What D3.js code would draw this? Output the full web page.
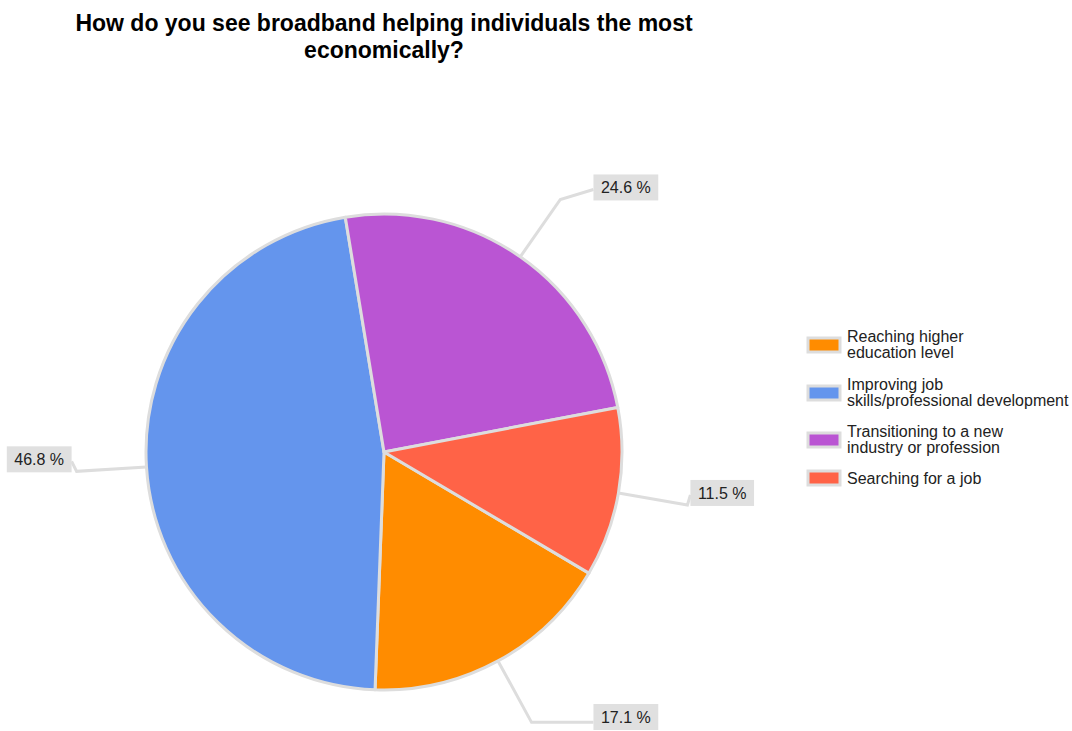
<!DOCTYPE html>
<html>
<head>
<meta charset="utf-8">
<script src="https://cdn.jsdelivr.net/npm/d3@7"></script>
<style>
  html, body { margin: 0; padding: 0; background: #fff; }
  svg { display: block; font-family: "Liberation Sans", Arial, sans-serif; }
</style>
</head>
<body>
<svg id="chart" width="1072" height="731"></svg>
<script>
// Survey answers, in legend order
const categories = [
  "Reaching higher education level",
  "Improving job skills/professional development",
  "Transitioning to a new industry or profession",
  "Searching for a job"
];
const legendLines = [
  ["Reaching higher", "education level"],
  ["Improving job", "skills/professional development"],
  ["Transitioning to a new", "industry or profession"],
  ["Searching for a job"]
];
const percents = [17.1, 46.8, 24.6, 11.5];
const colors = ["#FF8C00", "#6495ED", "#BA55D3", "#FF6347"];
const titleLines = ["How do you see broadband helping individuals the most", "economically?"];

const W = 1072, H = 731;
const cx = 384, cy = 452, R = 238;
const svg = d3.select("#chart");

// Title
svg.append("text")
  .attr("x", cx).attr("y", 31)
  .attr("text-anchor", "middle")
  .attr("font-size", 23).attr("font-weight", "bold").attr("fill", "#000")
  .selectAll("tspan").data(titleLines).join("tspan")
  .attr("x", cx).attr("dy", (d, i) => i ? 27 : 0)
  .text(d => d);

// Pie layout: slices run clockwise, first slice beginning lower right
const data = categories.map((c, i) => ({ name: c, value: percents[i], color: colors[i] }));
const start = 120.6 * Math.PI / 180;
const pie = d3.pie().value(d => d.value).sort(null)
  .startAngle(start).endAngle(start + 2 * Math.PI);
const arcs = pie(data);
const arc = d3.arc().innerRadius(0).outerRadius(R);

const g = svg.append("g").attr("transform", `translate(${cx},${cy})`);
g.selectAll("path.slice").data(arcs).join("path")
  .attr("class", "slice")
  .attr("d", arc)
  .attr("fill", d => d.data.color)
  .attr("stroke", "#dddddd")
  .attr("stroke-width", 3)
  .attr("stroke-linejoin", "round");

// Leader lines and value labels
const pt = (a, r) => [Math.sin(a) * r, -Math.cos(a) * r];
const labels = svg.append("g");
arcs.forEach(d => {
  const mid = (d.startAngle + d.endAngle) / 2;
  const p0 = pt(mid, R);
  const p1 = pt(mid, R + 70);
  const right = Math.sin(mid) > 0;
  const bottom = Math.cos(mid) < -0.8;
  const sx = x => cx + x, sy = y => cy + y;

  const t = labels.append("text")
    .attr("font-size", 16).attr("fill", "#222")
    .text(d.data.value.toFixed(1) + " %");
  const tw = t.node().getComputedTextLength();
  const bw = tw + 15, bh = 26;
  const ex = sx(p1[0]), ey = sy(p1[1]);
  let bx;
  if (right) bx = Math.max(ex + 3, cx + R * 0.88);
  else bx = Math.min(ex - 5, cx - R * 0.88) - bw;
  // labels below the pie hang from the leader; others sit on it
  let by = bottom ? ey - 12 : ey + 1 - bh;
  by = Math.min(by, H - 1 - bh);
  const lx = right ? bx : bx + bw;
  const ly = bottom ? ey : by + bh / 2 + 2;

  labels.insert("polyline", "text")
    .attr("points", [[sx(p0[0]), sy(p0[1])], [ex, ey], [lx, ly]].map(p => p.join(",")).join(" "))
    .attr("fill", "none").attr("stroke", "#dddddd").attr("stroke-width", 3);
  labels.insert("rect", "text")
    .attr("x", bx).attr("y", by).attr("width", bw).attr("height", bh)
    .attr("fill", "#e0e0e0");
  t.attr("x", bx + bw / 2).attr("y", by + bh / 2 + 6).attr("text-anchor", "middle");
});

// Legend
const legendY = [345, 393, 440, 478];
const leg = svg.append("g");
data.forEach((d, i) => {
  const y = legendY[i];
  leg.append("rect")
    .attr("x", 808).attr("y", y - 7).attr("width", 32).attr("height", 14)
    .attr("fill", d.color).attr("stroke", "#dddddd").attr("stroke-width", 3);
  const lines = legendLines[i];
  const y0 = lines.length > 1 ? y - 3 : y + 6;
  leg.append("text").attr("font-size", 16).attr("fill", "#222")
    .selectAll("tspan").data(lines).join("tspan")
    .attr("x", 847).attr("y", (l, j) => y0 + j * 16)
    .text(l => l);
});
</script>
</body>
</html>
